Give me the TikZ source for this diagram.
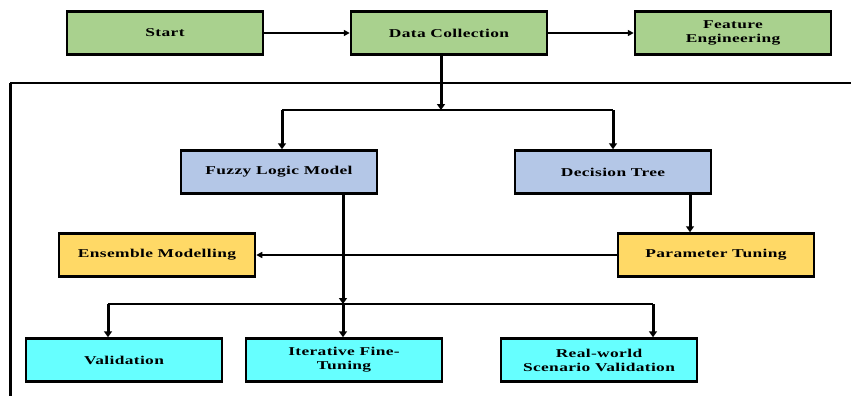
\documentclass[tikz,border=0pt]{standalone}
\usepackage{fontspec}
\setmainfont[FakeStretch=1.45,LetterSpace=3]{Liberation Serif}
\usetikzlibrary{arrows.meta}
\definecolor{cgreen}{RGB}{169,209,142}
\definecolor{cblue}{RGB}{180,199,231}
\definecolor{cyellow}{RGB}{255,217,102}
\definecolor{ccyan}{RGB}{102,255,255}
\begin{document}
\begin{tikzpicture}[x=1pt,y=-1pt,
  box/.style={draw=black, line width=2.5pt, minimum width=196pt, minimum height=43pt,
    align=center, inner sep=0pt, font=\fontsize{12}{14}\selectfont\bfseries},
  gbox/.style={box, fill=cgreen},
  bbox/.style={box, fill=cblue},
  ybox/.style={box, fill=cyellow},
  cbox/.style={box, fill=ccyan},
  thinarr/.style={line width=1.5pt, -{Triangle[length=6pt,width=6pt]}},
  thickarr/.style={line width=3pt, -{Triangle[length=6pt,width=8pt]}},
  conn/.style={line width=2pt},
  frame/.style={line width=1.5pt}]
\useasboundingbox (0,0) rectangle (851,396);

\node[gbox] (start) at (165,33) {Start};
\node[gbox] (dc) at (449,33) {Data Collection};
\node[gbox] (fe) at (733,33) {Feature\\Engineering};

\node[bbox] (flm) at (279,172) {Fuzzy Logic Model};
\node[bbox] (dt) at (613,172) {Decision Tree};

\node[ybox] (ens) at (157,255) {Ensemble Modelling};
\node[ybox] (pt) at (716,255) {Parameter Tuning};

\node[cbox] (val) at (124,360) {Validation};
\node[cbox] (ift) at (344,360) {Iterative Fine-\\Tuning};
\node[cbox] (rw) at (599,360) {Real-world\\Scenario Validation};

% frame lines
\coordinate (fl) at (10,83);
\coordinate (fr) at (851,83);
\coordinate (fb) at (10,396);
\draw[frame] (fr) -- (fl);
\draw[line width=3pt] (fl) -- (fb);

% top row
\draw[thinarr] (start.east) -- (dc.west);
\draw[thinarr] (dc.east) -- (fe.west);

% split to models
\coordinate (j1) at (441,110);
\coordinate (jl) at (282,110);
\coordinate (jr) at (613,110);
\draw[thickarr] (dc.south -| j1) -- (j1);
\draw[conn] (jl) -- (jr);
\draw[thickarr] (jl) -- (flm.north -| jl);
\draw[thickarr] (jr) -- (dt.north -| jr);

% decision tree to parameter tuning
\coordinate (dtx) at (690,200);
\draw[thickarr] (dt.south -| dtx) -- (pt.north -| dtx);

% parameter tuning to ensemble
\draw[line width=2pt, -{Triangle[length=6pt,width=6pt]}] (pt.west) -- (ens.east);

% fuzzy down to bottom split
\coordinate (j2) at (343,304);
\coordinate (bl) at (108,304);
\coordinate (br) at (653,304);
\draw[thickarr] (flm.south -| j2) -- (j2);
\draw[conn] (bl) -- (br);
\draw[thickarr] (bl) -- (val.north -| bl);
\draw[thickarr] (j2) -- (ift.north -| j2);
\draw[thickarr] (br) -- (rw.north -| br);
\end{tikzpicture}
\end{document}
